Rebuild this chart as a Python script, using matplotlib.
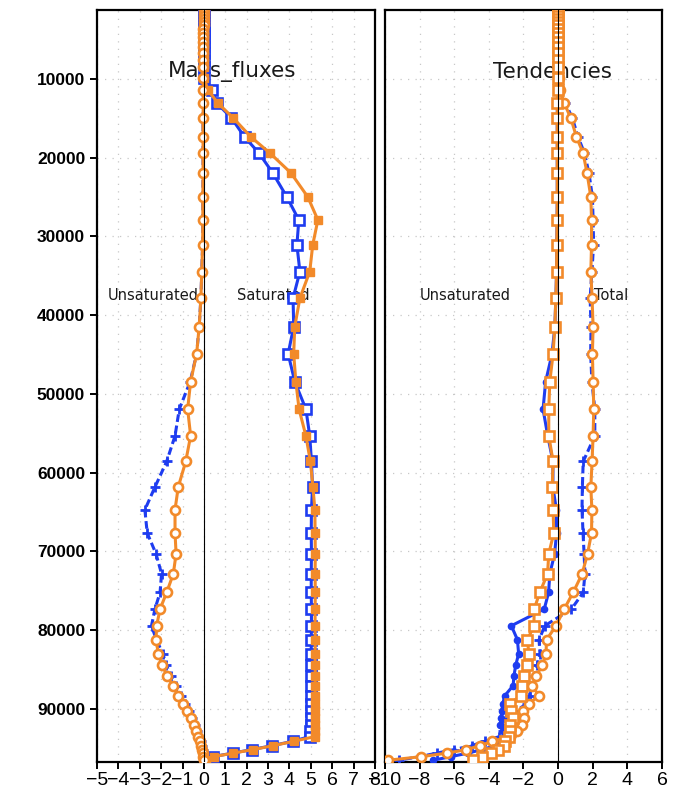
import matplotlib
matplotlib.use("Agg")
import matplotlib.pyplot as plt

# model levels (Pa)
levels = [1300, 1620, 2000, 2380, 2770, 3150, 3650, 4160, 4670, 5300,
          5940, 6700, 7590, 8480, 9870, 11400, 13050, 14950, 17360, 19390,
          21930, 24980, 27900, 31070, 34460, 37830, 41440, 44900, 48420, 51920,
          55310, 58570, 61820, 64700, 67660, 70290, 72830, 75200, 77310, 79430,
          81210, 82990, 84460, 85770, 87040, 88310, 89330, 90300, 91190, 92030,
          92790, 93500, 94100, 94650, 95150, 95600, 96050, 96500]

# Mass fluxes
mf_unsat_org = [-0.01, -0.01, -0.01, -0.01, -0.01, -0.01, -0.02, -0.02, -0.02, -0.02,
                -0.02, -0.02, -0.03, -0.03, -0.03, -0.03, -0.03, -0.04, -0.04, -0.04,
                -0.04, -0.05, -0.05, -0.06, -0.10, -0.14, -0.22, -0.34, -0.62, -0.76,
                -0.62, -0.85, -1.20, -1.35, -1.35, -1.30, -1.43, -1.74, -2.05, -2.21,
                -2.24, -2.13, -1.95, -1.72, -1.45, -1.20, -1.00, -0.80, -0.62, -0.48,
                -0.36, -0.26, -0.18, -0.12, -0.08, -0.05, -0.02, 0.00]
mf_unsat_blu = [-0.01, -0.01, -0.01, -0.01, -0.01, -0.01, -0.02, -0.02, -0.02, -0.02,
                -0.02, -0.02, -0.03, -0.03, -0.03, -0.03, -0.03, -0.04, -0.04, -0.04,
                -0.04, -0.05, -0.05, -0.06, -0.10, -0.14, -0.22, -0.34, -0.64, -1.15,
                -1.35, -1.74, -2.29, -2.76, -2.65, -2.24, -1.98, -2.05, -2.29, -2.45,
                -2.22, -1.92, -1.75, -1.55, -1.30, -1.06, -0.88, -0.70, -0.54, -0.42,
                -0.31, -0.22, -0.15, -0.10, -0.06, -0.04, -0.02, 0.00]
mf_sat_blu = [0.0, 0.0, 0.0, 0.0, 0.0, 0.0, 0.0, 0.0, 0.0, 0.0,
              0.0, 0.0, 0.0, 0.0, 0.0, 0.36, 0.60, 1.29, 1.90, 2.57,
              3.22, 3.88, 4.44, 4.35, 4.49, 4.17, 4.20, 3.94, 4.25, 4.77,
              4.95, 5.03, 5.08, 5.03, 5.02, 5.03, 5.02, 5.02, 5.03, 5.03,
              5.02, 5.02, 5.01, 5.01, 5.00, 5.00, 5.00, 5.00, 4.99, 4.99,
              4.98, 4.95, 4.15, 3.20, 2.25, 1.35, 0.42, 0.05]
mf_sat_org = [0.0, 0.0, 0.0, 0.0, 0.0, 0.0, 0.0, 0.0, 0.0, 0.0,
              0.0, 0.0, 0.0, 0.0, 0.0, 0.19, 0.65, 1.37, 2.20, 3.08,
              4.07, 4.86, 5.33, 5.09, 4.95, 4.49, 4.25, 4.20, 4.30, 4.45,
              4.77, 4.98, 5.10, 5.19, 5.20, 5.21, 5.20, 5.21, 5.20, 5.20,
              5.21, 5.20, 5.20, 5.21, 5.20, 5.20, 5.20, 5.21, 5.20, 5.20,
              5.20, 5.20, 4.20, 3.25, 2.30, 1.38, 0.45, 0.08]

# Tendencies
td_unsat_org = [-0.02, -0.02, -0.02, -0.02, -0.02, -0.02, -0.02, -0.02, -0.02, -0.02,
                -0.02, -0.02, -0.02, -0.02, -0.02, -0.03, -0.04, -0.05, -0.05, -0.05,
                -0.05, -0.05, -0.06, -0.08, -0.09, -0.13, -0.19, -0.29, -0.48, -0.54,
                -0.54, -0.29, -0.34, -0.29, -0.25, -0.54, -0.61, -1.06, -1.38, -1.40,
                -1.77, -1.69, -1.80, -1.98, -2.10, -2.15, -2.80, -2.72, -2.60, -2.80,
                -2.75, -2.85, -3.05, -3.10, -3.45, -3.90, -4.40, -4.90]
td_unsat_blu = [-0.02, -0.02, -0.02, -0.02, -0.02, -0.02, -0.02, -0.02, -0.02, -0.02,
                -0.02, -0.02, -0.02, -0.02, -0.02, -0.03, -0.04, -0.05, -0.05, -0.05,
                -0.05, -0.05, -0.06, -0.08, -0.09, -0.13, -0.19, -0.35, -0.72, -0.87,
                -0.60, -0.30, -0.30, -0.10, -0.09, -0.20, -0.48, -0.55, -0.80, -2.70,
                -2.35, -2.28, -2.45, -2.55, -2.60, -3.08, -3.20, -3.25, -3.30, -3.35,
                -3.20, -3.10, -3.20, -3.60, -4.40, -5.20, -6.20, -7.20]
td_tot_org = [0.01, 0.01, 0.01, 0.01, 0.01, 0.01, 0.01, 0.01, 0.01, 0.01,
              0.01, 0.01, 0.01, 0.02, 0.03, 0.10, 0.35, 0.73, 1.06, 1.44,
              1.67, 1.89, 1.93, 1.93, 1.89, 1.96, 2.02, 1.98, 2.02, 2.06,
              2.02, 1.96, 1.89, 1.95, 1.93, 1.70, 1.39, 0.87, 0.35, -0.12,
              -0.67, -0.70, -0.92, -1.25, -1.50, -1.11, -1.69, -2.05, -1.96, -2.10,
              -2.35, -2.80, -3.80, -4.50, -5.30, -6.40, -7.90, -9.80]
td_tot_blu = [0.02, 0.02, 0.02, 0.02, 0.02, 0.02, 0.02, 0.02, 0.02, 0.02,
              0.02, 0.02, 0.02, 0.03, 0.04, 0.12, 0.42, 0.82, 1.15, 1.52,
              1.78, 1.98, 2.02, 2.05, 1.95, 1.85, 1.90, 1.88, 1.95, 2.12,
              2.12, 1.45, 1.40, 1.38, 1.44, 1.50, 1.55, 1.45, 0.77, -0.77,
              -1.10, -1.05, -1.20, -1.35, -1.60, -1.65, -1.80, -2.50, -3.00, -3.25,
              -3.20, -3.40, -4.20, -5.00, -6.00, -7.00, -8.00, -9.20]

ytick_vals = [10000, 20000, 30000, 40000, 50000, 60000, 70000, 80000, 90000]
left_xticks = list(range(-5, 9))
right_xticks = list(range(-10, 7, 2))

ORG = '#F28A2A'
BLU = '#1E3CF0'

fig = plt.figure(figsize=(6.81, 7.94), dpi=100)
ax1 = fig.add_axes([0.1424, 0.0403, 0.4082, 0.9471])
ax2 = fig.add_axes([0.5653, 0.0403, 0.4068, 0.9471])

grid_kw = dict(color='#c8c8c8', linestyle=(0, (1, 5)), linewidth=0.9)

for ax in (ax1, ax2):
    ax.set_ylim(96730, 1240)
    ax.set_yticks(ytick_vals)
    ax.grid(True, **grid_kw)
    ax.set_axisbelow(True)
    for sp in ax.spines.values():
        sp.set_linewidth(1.6)
    ax.tick_params(direction='out', length=5, width=1.4, top=False, right=False)
    ax.axvline(0, color='black', linewidth=0.8, zorder=10)

# left panel: mass fluxes
ax1.set_xlim(-5, 8)
ax1.set_xticks(left_xticks)
ax1.set_xticklabels([str(v).replace('-', '\u2212') for v in left_xticks],
                    fontsize=14, family='Liberation Sans')
ax1.set_yticklabels([str(v) for v in ytick_vals], fontsize=12.5,
                    family='Liberation Sans', fontweight='bold')
ax1.tick_params(axis='x', pad=2)

ax1.plot(mf_unsat_blu, levels, color=BLU, lw=2.2, ls=(0, (2.5, 1.2)),
         marker='+', ms=7.5, mew=2.0, zorder=3)
ax1.plot(mf_sat_blu, levels, color=BLU, lw=2.2, marker='s', ms=6.5,
         mfc='white', mec=BLU, mew=1.9, zorder=4)
ax1.plot(mf_sat_org, levels, color=ORG, lw=2.2, marker='s', ms=5.5,
         mfc=ORG, mec=ORG, zorder=5)
ax1.plot(mf_unsat_org, levels, color=ORG, lw=2.2, marker='o', ms=6.5,
         mfc='white', mec=ORG, mew=1.9, zorder=6)

ax1.text(0.487, 0.918, 'Mass_fluxes', transform=ax1.transAxes, ha='center',
         va='center', fontsize=15.5, color='#1a1a1a', zorder=1)
ax1.text(0.04, 0.621, 'Unsaturated', transform=ax1.transAxes, ha='left',
         va='center', fontsize=10.5, color='#1a1a1a', zorder=1)
ax1.text(0.504, 0.621, 'Saturated', transform=ax1.transAxes, ha='left',
         va='center', fontsize=10.5, color='#1a1a1a', zorder=1)

# right panel: tendencies
ax2.set_xlim(-10, 6)
ax2.set_xticks(right_xticks)
ax2.set_xticklabels([str(v).replace('-', '\u2212') for v in right_xticks],
                    fontsize=14, family='Liberation Sans')
ax2.tick_params(axis='y', left=False, labelleft=False)
ax2.tick_params(axis='x', pad=2)

ax2.plot(td_unsat_blu, levels, color=BLU, lw=2.2, marker='o', ms=4.5,
         mfc=BLU, mec=BLU, zorder=3)
ax2.plot(td_tot_blu, levels, color=BLU, lw=2.2, ls=(0, (2.5, 1.2)),
         marker='+', ms=7.5, mew=2.0, zorder=4)
ax2.plot(td_tot_org, levels, color=ORG, lw=2.2, marker='o', ms=6.5,
         mfc='white', mec=ORG, mew=1.9, zorder=5)
ax2.plot(td_unsat_org, levels, color=ORG, lw=2.2, marker='s', ms=6.5,
         mfc='white', mec=ORG, mew=1.9, zorder=6)

ax2.text(0.605, 0.918, 'Tendencies', transform=ax2.transAxes, ha='center',
         va='center', fontsize=15.5, color='#1a1a1a', zorder=1)
ax2.text(0.126, 0.621, 'Unsaturated', transform=ax2.transAxes, ha='left',
         va='center', fontsize=10.5, color='#1a1a1a', zorder=1)
ax2.text(0.755, 0.621, 'Total', transform=ax2.transAxes, ha='left',
         va='center', fontsize=10.5, color='#1a1a1a', zorder=1)

fig.savefig('out.png', dpi=100, facecolor='white')
